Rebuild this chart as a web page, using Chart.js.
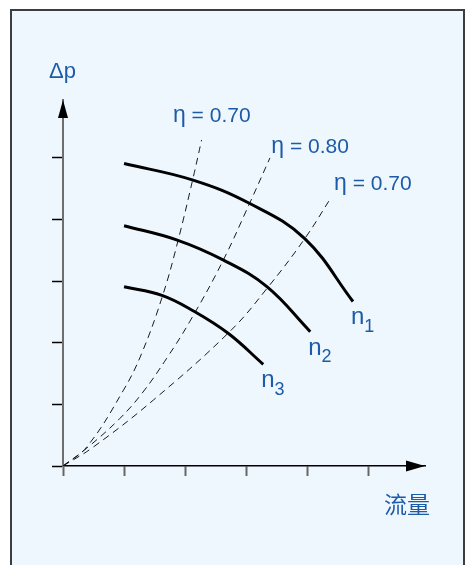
<!DOCTYPE html>
<html lang="zh">
<head>
<meta charset="utf-8">
<title>泵特性曲线</title>
<script src="https://cdn.jsdelivr.net/npm/chart.js@4/dist/chart.umd.min.js"></script>
<style>
    html, body { margin: 0; padding: 0; background: #ffffff; }
    body { width: 467px; height: 565px; position: relative; overflow: hidden; }
    #panel {
        position: absolute; left: 10px; top: 9px;
        width: 451px; height: 580px;
        background: #eff7fe;
        border: 2px solid #3d3d3d; border-bottom: none;
    }
    #pumpChart { position: absolute; left: 0; top: 0; }
</style>
</head>
<body>
<div id="panel"></div>
<canvas id="pumpChart" width="467" height="565"></canvas>
<script>
// ---------- data ----------
const xTitle = "流量";
const yTitle = "Δp";

// pump curves at three speeds (flow, pressure)
const speedNames = ["1", "2", "3"];
const flowN1 = [1.00, 2.13, 3.06, 3.96, 4.75];
const dpN1   = [4.91, 4.64, 4.26, 3.69, 2.67];
const flowN2 = [1.00, 1.86, 2.63, 3.34, 4.05];
const dpN2   = [3.90, 3.67, 3.34, 2.91, 2.18];
const flowN3 = [1.00, 1.62, 2.13, 2.71, 3.28];
const dpN3   = [2.91, 2.77, 2.52, 2.15, 1.65];

// iso-efficiency lines through the origin
const etaNames = ["η = 0.70", "η = 0.80", "η = 0.70"];
const flowEtaA = [0, 0.39, 0.99, 1.29, 1.64, 1.89, 2.13, 2.27];
const dpEtaA   = [0, 0.31, 1.23, 1.83, 2.79, 3.68, 4.67, 5.29];
const flowEtaB = [0, 0.39, 0.93, 1.31, 1.70, 2.08, 2.61, 3.06, 3.39];
const dpEtaB   = [0, 0.29, 0.77, 1.20, 1.75, 2.35, 3.31, 4.27, 5.00];
const flowEtaC = [0, 0.50, 1.48, 2.74, 3.34, 3.96, 4.40];
const dpEtaC   = [0, 0.31, 1.07, 2.19, 2.88, 3.69, 4.37];

const flowMax = 5.93;
const dpMax = 5.94;

// ---------- helpers ----------
const textBlue = "#1d5ba8";
const labelFont = "'Liberation Sans', Arial, sans-serif";

function toPoints(xs, ys) {
    return xs.map((x, i) => ({ x: x, y: ys[i] }));
}

function speedCurve(xs, ys) {
    return {
        data: toPoints(xs, ys),
        borderColor: "#000000",
        borderWidth: 3,
        tension: 0.4,
        pointRadius: 0,
        fill: false
    };
}

function etaCurve(xs, ys) {
    return {
        data: toPoints(xs, ys),
        borderColor: "#1a1a1a",
        borderWidth: 1,
        borderDash: [7, 5],
        tension: 0.4,
        pointRadius: 0,
        fill: false
    };
}

function keepWholeTicks(axis) {
    axis.ticks = axis.ticks.filter(t => Number.isInteger(t.value));
}

// ---------- plugins ----------
const axisArrows = {
    id: "axisArrows",
    afterDraw(chart) {
        const { ctx, chartArea: a } = chart;
        ctx.save();
        ctx.fillStyle = "#000000";

        ctx.beginPath();
        ctx.moveTo(a.left, a.top);
        ctx.lineTo(a.left - 5, a.top + 18);
        ctx.lineTo(a.left + 5, a.top + 18);
        ctx.closePath();
        ctx.fill();

        ctx.beginPath();
        ctx.moveTo(a.right, a.bottom);
        ctx.lineTo(a.right - 19, a.bottom - 5.5);
        ctx.lineTo(a.right - 19, a.bottom + 5.5);
        ctx.closePath();
        ctx.fill();

        ctx.restore();
    }
};

const curveLabels = {
    id: "curveLabels",
    afterDraw(chart) {
        const { ctx, chartArea: a } = chart;
        ctx.save();
        ctx.fillStyle = textBlue;
        ctx.textAlign = "left";
        ctx.textBaseline = "alphabetic";

        // axis titles
        ctx.font = "22px " + labelFont;
        ctx.fillText(yTitle, a.left - 14, a.top - 22);

        ctx.font = "23px 'Noto Sans CJK SC', sans-serif";
        ctx.textAlign = "right";
        ctx.textBaseline = "middle";
        ctx.fillText(xTitle, a.right + 5, a.bottom + 38.5);
        ctx.textAlign = "left";
        ctx.textBaseline = "alphabetic";

        // n1..n3 below the end of each speed curve
        speedNames.forEach((name, i) => {
            const pts = chart.getDatasetMeta(i).data;
            const end = pts[pts.length - 1];
            const x = end.x - 2;
            const y = end.y + 23;
            ctx.font = "24px " + labelFont;
            ctx.fillText("n", x, y);
            const w = ctx.measureText("n").width;
            ctx.font = "18px " + labelFont;
            ctx.fillText(name, x + w, y + 7.5);
        });

        // efficiency labels above the top of each dashed line
        const etaOffsets = [[-28.6, -18], [1.4, -4.7], [2.4, -6.7]];
        etaNames.forEach((name, i) => {
            const pts = chart.getDatasetMeta(speedNames.length + i).data;
            const top = pts[pts.length - 1];
            const x = top.x + etaOffsets[i][0];
            const y = top.y + etaOffsets[i][1];
            ctx.font = "23px " + labelFont;
            ctx.fillText(name.charAt(0), x, y);
            const w = ctx.measureText(name.charAt(0)).width;
            ctx.font = "21px " + labelFont;
            ctx.fillText(name.slice(1), x + w, y);
        });

        ctx.restore();
    }
};

// ---------- chart ----------
const chart = new Chart(document.getElementById("pumpChart"), {
    type: "line",
    data: {
        datasets: [
            speedCurve(flowN1, dpN1),
            speedCurve(flowN2, dpN2),
            speedCurve(flowN3, dpN3),
            etaCurve(flowEtaA, dpEtaA),
            etaCurve(flowEtaB, dpEtaB),
            etaCurve(flowEtaC, dpEtaC)
        ]
    },
    options: {
        responsive: false,
        animation: false,
        devicePixelRatio: 1,
        layout: {
            padding: { left: 52, right: 42, top: 100, bottom: 89 }
        },
        plugins: {
            legend: { display: false },
            tooltip: { enabled: false }
        },
        scales: {
            x: {
                type: "linear",
                min: 0,
                max: flowMax,
                ticks: { display: false, stepSize: 1, includeBounds: false },
                afterBuildTicks: keepWholeTicks,
                grid: {
                    drawOnChartArea: false,
                    tickLength: 10,
                    tickColor: "#666666",
                    tickWidth: 2
                },
                border: { color: "#000000", width: 1.5 }
            },
            y: {
                type: "linear",
                min: 0,
                max: dpMax,
                ticks: { display: false, stepSize: 1, includeBounds: false },
                afterBuildTicks: keepWholeTicks,
                grid: {
                    drawOnChartArea: false,
                    tickLength: 11,
                    tickColor: "#000000",
                    tickWidth: 1.5
                },
                border: { color: "#6e6e6e", width: 2 }
            }
        }
    },
    plugins: [axisArrows, curveLabels]
});
</script>
</body>
</html>
